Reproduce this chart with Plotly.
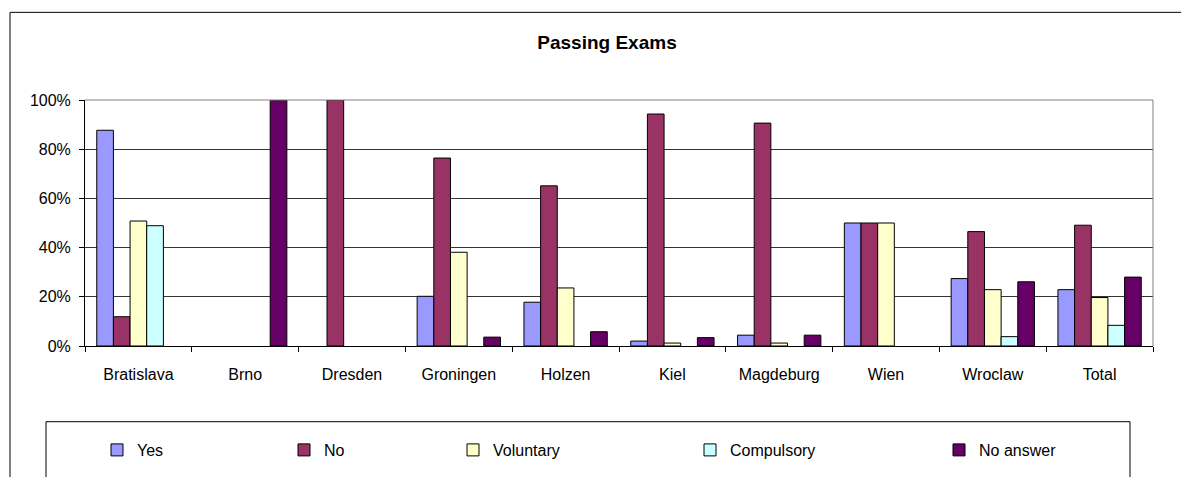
import plotly.graph_objects as go

CITIES = ["Bratislava", "Brno", "Dresden", "Groningen", "Holzen", "Kiel",
          "Magdeburg", "Wien", "Wroclaw", "Total"]

YES = [87.7, 0, 0, 20.2, 17.8, 2.0, 4.4, 50, 27.4, 22.9]
NO = [11.9, 0, 100, 76.4, 65.1, 94.3, 90.6, 50, 46.5, 49.1]
VOLUNTARY = [50.8, 0, 0, 38.1, 23.6, 1.2, 1.2, 50, 22.9, 19.7]
COMPULSORY = [48.9, 0, 0, 0, 0, 0, 0, 0, 3.8, 8.4]
NO_ANSWER = [0, 100, 0, 3.6, 5.8, 3.4, 4.4, 0, 26.1, 28.0]

SERIES = [
    ("Yes", YES, "#9999FF"),
    ("No", NO, "#993366"),
    ("Voluntary", VOLUNTARY, "#FFFFCC"),
    ("Compulsory", COMPULSORY, "#CCFFFF"),
    ("No answer", NO_ANSWER, "#660066"),
]

# the html page puts the figure 8px in from the top-left corner
OFF = 8
W, H = 1189 - OFF, 477 - OFF
L, R, T, B = 85 - OFF, 36, 100 - OFF, 130
PW, PH = W - L - R, H - T - B

# where each legend entry's text starts (screen px)
LEGEND_TEXT_X = [135, 322, 491, 728, 977]
LEGEND_Y = 450


def px_x(p):
    return (p - OFF - L) / PW


def px_y(p):
    return 1 - (p - OFF - T) / PH


FONT = "Liberation Sans, Arial, sans-serif"

fig = go.Figure()
for i, (name, vals, color) in enumerate(SERIES):
    fig.add_trace(go.Bar(
        x=CITIES, y=[v if v else None for v in vals], name=name,
        marker=dict(color=color, line=dict(color="black", width=1)),
        legend=f"legend{i + 2}", showlegend=True,
    ))

legends = {}
for i, tx in enumerate(LEGEND_TEXT_X):
    legends[f"legend{i + 2}"] = dict(
        x=px_x(tx - 38), y=px_y(LEGEND_Y), xanchor="left", yanchor="middle",
        bgcolor="rgba(0,0,0,0)", font=dict(family=FONT, size=16, color="black"),
        itemclick=False, itemdoubleclick=False,
    )

fig.update_layout(
    width=W, height=H,
    margin=dict(l=L, r=R, t=T, b=B),
    paper_bgcolor="white", plot_bgcolor="white",
    barmode="group", bargap=0.22, bargroupgap=0,
    showlegend=True,
    title=dict(text="Passing Exams", x=px_x(607), xref="paper", xanchor="center",
               y=1 - (42 - OFF) / H, yanchor="middle",
               font=dict(family=FONT, size=19, color="black", weight="bold")),
    font=dict(family=FONT, size=16, color="black"),
    **legends,
)

fig.update_yaxes(
    range=[0, 100], tickvals=[0, 20, 40, 60, 80, 100],
    ticktext=["0%", "20%", "40%", "60%", "80%", "100%"],
    showgrid=True, gridcolor="#333333", gridwidth=1,
    showline=True, linecolor="black", linewidth=1,
    ticks="outside", ticklen=5, tickcolor="black", ticklabelstandoff=5,
    zeroline=False, fixedrange=True,
)
fig.update_xaxes(
    tickson="boundaries", ticks="outside", ticklen=5, tickcolor="black",
    ticklabelstandoff=14,
    showline=True, linecolor="black", linewidth=1, showgrid=False,
    fixedrange=True,
)

# plot area border (grey, top and right)
fig.add_shape(type="line", xref="paper", yref="paper", x0=0, x1=1, y0=1, y1=1,
              line=dict(color="#808080", width=1))
fig.add_shape(type="line", xref="paper", yref="paper", x0=1, x1=1, y0=0, y1=1,
              line=dict(color="#808080", width=1))
# outer chart frame
fig.add_shape(type="rect", xref="paper", yref="paper",
              x0=px_x(10), x1=px_x(1200), y0=px_y(12), y1=px_y(490),
              line=dict(color="black", width=1), layer="below")
# legend box
fig.add_shape(type="rect", xref="paper", yref="paper",
              x0=px_x(46), x1=px_x(1130), y0=px_y(423), y1=px_y(490),
              line=dict(color="black", width=1), layer="below")

fig.write_html("out.html")
